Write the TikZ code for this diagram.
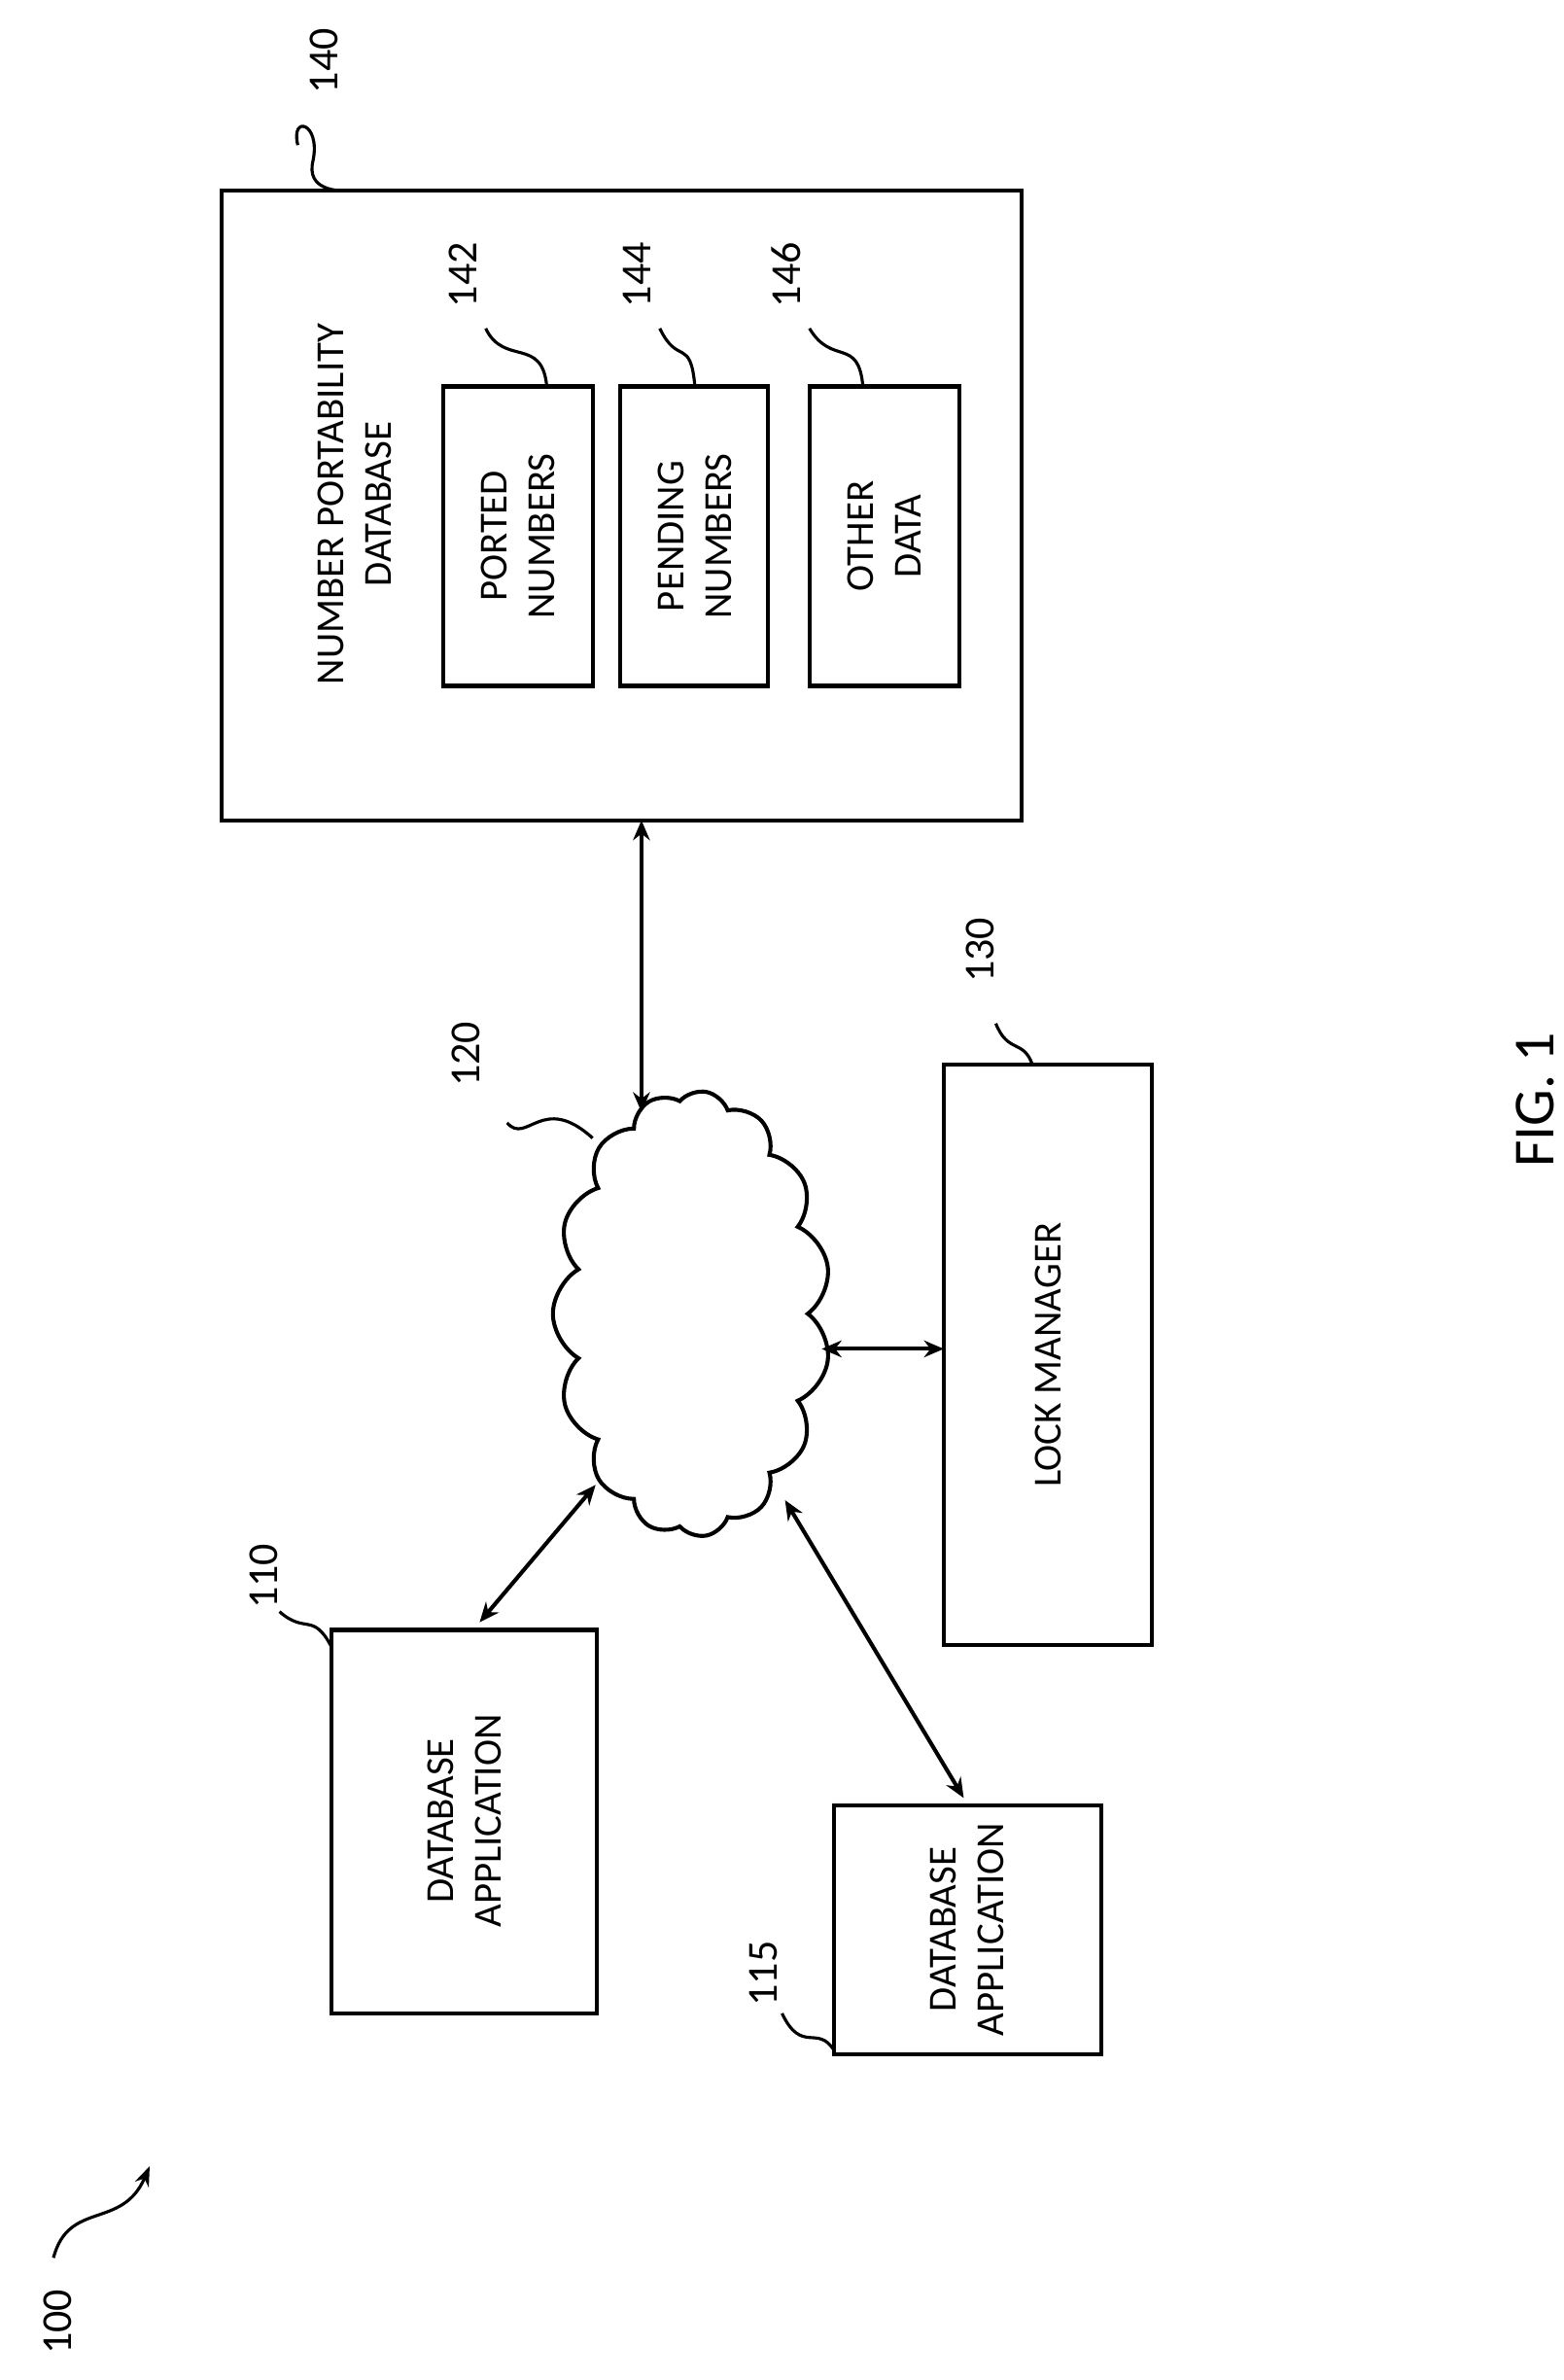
\documentclass[tikz,border=0pt]{standalone}
\usepackage{fontspec}
\setmainfont{Carlito}
\usetikzlibrary{shapes.symbols,arrows.meta}
\begin{document}
\begin{tikzpicture}[x=1pt,y=-1pt,line width=2.6pt,
  box/.style={draw,line width=2.6pt},
  txt/.style={rotate=90,align=center,font=\fontsize{26}{31}\selectfont},
  lab/.style={rotate=90,font=\fontsize{28}{30}\selectfont},
  conn/.style={{Stealth[length=13pt,width=11pt]}-{Stealth[length=13pt,width=11pt]},line width=2.6pt},
  sq/.style={line width=2pt}]
\useasboundingbox (0,0) rectangle (1024,1558);
% boxes
\draw[box] (145,125) rectangle (669,537);
\node[txt] (t140) at (232,330) {NUMBER PORTABILITY\\DATABASE};
\draw[box] (290,253) rectangle (388,449); \node[txt] (t142) at (339,351) {PORTED\\NUMBERS};
\draw[box] (406,253) rectangle (503,449); \node[txt] (t144) at (455,351) {PENDING\\NUMBERS};
\draw[box] (530,253) rectangle (628,449); \node[txt] (t146) at (579,351) {OTHER\\DATA};
\draw[box] (618,697) rectangle (754,1077); \node[txt] (t130) at (686,887) {LOCK MANAGER};
\draw[box] (217,1067) rectangle (391,1318); \node[txt] (t110) at (304,1192) {DATABASE\\APPLICATION};
\draw[box] (546,1182) rectangle (721,1345); \node[txt] (t115) at (633,1263) {DATABASE\\APPLICATION};
\node[cloud,draw,line width=2.6pt,cloud puffs=15,cloud puff arc=120,aspect=0.6,minimum width=292pt,minimum height=182pt,rotate=90] (c) at (453,860) {};
% labels
\node[lab] (l140) at (212,40) {140};
\draw[sq] (195,95) .. controls (190,75) and (210,80) .. (205,105) .. controls (200,125) and (222,125) .. (228,125);
\node[lab] (l142) at (303,180) {142};
\node[lab] (l144) at (417,180) {144};
\node[lab] (l146) at (515,180) {146};
\draw[sq] (318,215) .. controls (330,240) and (355,220) .. (358,253);
\draw[sq] (432,215) .. controls (444,240) and (452,220) .. (455,253);
\draw[sq] (530,215) .. controls (545,240) and (562,220) .. (565,253);
\node[lab] (l120) at (305,690) {120};
\draw[sq] (332,735) .. controls (345,750) and (355,715) .. (388,745);
\node[lab] (l130) at (642,622) {130};
\draw[sq] (652,670) .. controls (660,690) and (670,680) .. (676,697);
\node[lab] (l110) at (173,1032) {110};
\draw[sq] (183,1055) .. controls (200,1070) and (205,1055) .. (217,1078);
\node[lab] (l115) at (500,1292) {115};
\draw[sq] (512,1318) .. controls (525,1345) and (535,1325) .. (546,1342);
\node[lab] (l100) at (38,1520) {100};
\draw[sq,-{Stealth[length=13pt]}] (35,1478) .. controls (45,1440) and (80,1460) .. (98,1418);
\node[rotate=90,font=\fontsize{38}{40}\selectfont] (fig) at (1005,720) {FIG. 1};
% connectors
\coordinate (a1) at (420,537); \coordinate (a2) at (420,728);
\draw[conn] (a1) -- (a2);
\coordinate (b1) at (538,883); \coordinate (b2) at (618,883);
\draw[conn] (b1) -- (b2);
\coordinate (d1) at (390,972); \coordinate (d2) at (314,1062);
\draw[conn] (d1) -- (d2);
\coordinate (e1) at (514,982); \coordinate (e2) at (631,1177);
\draw[conn] (e1) -- (e2);
\end{tikzpicture}
\end{document}
